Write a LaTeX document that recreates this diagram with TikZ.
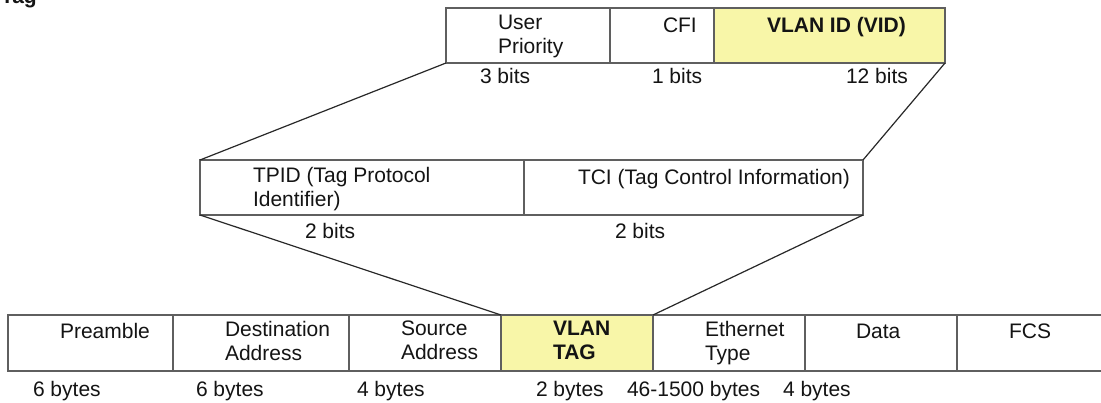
\documentclass[tikz,border=0pt]{standalone}
\usepackage{fontspec}
\setmainfont{Liberation Sans}
\definecolor{ln}{RGB}{95,95,95}
\definecolor{dl}{RGB}{40,40,40}
\definecolor{vy}{RGB}{248,246,168}
\definecolor{tx}{RGB}{20,20,20}
\begin{document}
\begin{tikzpicture}[x=1pt,y=-1pt,
  cell/.style={draw=ln, line width=1.8pt, fill=white, anchor=north west, inner sep=0pt, outer sep=0pt},
  hcell/.style={cell, fill=vy},
  conn/.style={draw=dl, line width=1.2pt},
  lbl/.style={anchor=north west, yshift=16.8pt, inner sep=0pt, outer sep=0pt, align=left, text=tx,
    font=\fontsize{21}{24}\selectfont, execute at begin node=\strut},
  blbl/.style={lbl, font=\fontsize{21}{24}\selectfont\bfseries}]
\useasboundingbox (0,0) rectangle (1101,402);
\clip (0,0) rectangle (1101,402);
\fill[white] (0,0) rectangle (1101,402);
% top row
\node[cell, minimum width=164pt, minimum height=55pt] (up) at (446,8) {};
\node[cell, minimum width=104pt, minimum height=55pt] (cfi) at (610,8) {};
\node[hcell, minimum width=231pt, minimum height=55pt] (vid) at (714,8) {};
% middle row
\node[cell, minimum width=324pt, minimum height=55pt] (tpid) at (200,160) {};
\node[cell, minimum width=339pt, minimum height=55pt] (tci) at (524,160) {};
% bottom row
\node[cell, minimum width=165pt, minimum height=56pt] (pre) at (8,315) {};
\node[cell, minimum width=176pt, minimum height=56pt] (dst) at (173,315) {};
\node[cell, minimum width=152pt, minimum height=56pt] (src) at (349,315) {};
\node[hcell, minimum width=152pt, minimum height=56pt] (vlan) at (501,315) {};
\node[cell, minimum width=152pt, minimum height=56pt] (eth) at (653,315) {};
\node[cell, minimum width=152pt, minimum height=56pt] (dat) at (805,315) {};
\node[cell, minimum width=160pt, minimum height=56pt] (fcs) at (957,315) {};
% connectors
\draw[conn] (up.south west) -- (tpid.north west);
\draw[conn] (vid.south east) -- (tci.north east);
\draw[conn] (tpid.south west) -- (vlan.north west);
\draw[conn] (tci.south east) -- (vlan.north east);
% labels
\node[blbl] (tag) at (1,3) {Tag};
\node[lbl] (tup) at (498,32) {User\\Priority};
\node[lbl] (tcfi) at (663,32) {CFI};
\node[blbl] (tvid) at (767,32) {VLAN ID (VID)};
\node[lbl] (bup) at (480,83) {3 bits};
\node[lbl] (bcfi) at (652,83) {1 bits};
\node[lbl] (bvid) at (846,83) {12 bits};
\node[lbl] (ttpid) at (253,184) {TPID (Tag Protocol\\Identifier)};
\node[lbl] (ttci) at (578,184) {TCI (Tag Control Information)};
\node[lbl] (btpid) at (305,238) {2 bits};
\node[lbl] (btci) at (615,238) {2 bits};
\node[lbl] (tpre) at (60,338) {Preamble};
\node[lbl] (tdst) at (225,338) {Destination\\Address};
\node[lbl] (tsrc) at (401,338) {Source\\Address};
\node[blbl] (tvlan) at (553,338) {VLAN\\TAG};
\node[lbl] (teth) at (705,338) {Ethernet\\Type};
\node[lbl] (tdat) at (856,338) {Data};
\node[lbl] (tfcs) at (1009,338) {FCS};
\node[lbl] (bpre) at (33,396) {6 bytes};
\node[lbl] (bdst) at (196,396) {6 bytes};
\node[lbl] (bsrc) at (357,396) {4 bytes};
\node[lbl] (bvlan) at (536,396) {2 bytes};
\node[lbl] (beth) at (627,396) {46-1500 bytes};
\node[lbl] (bdat) at (783,396) {4 bytes};
\end{tikzpicture}
\end{document}
